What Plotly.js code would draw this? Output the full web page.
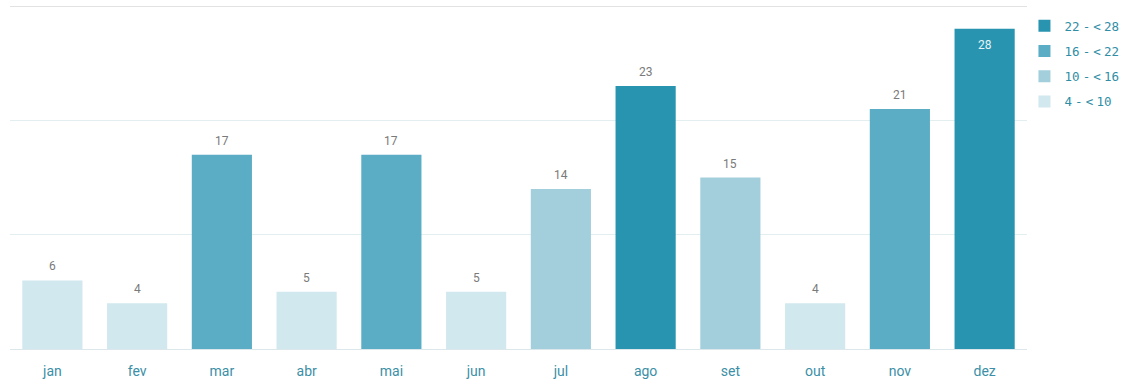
<!DOCTYPE html>
<html>
<head>
<meta charset="utf-8">
<script src="https://cdn.plot.ly/plotly-3.0.1.min.js"></script>
<style>html,body{margin:0;padding:0;background:#fff}#chart{width:1123px;height:379px}</style>
</head>
<body>
<div id="chart"></div>
<script>
const months = ["jan","fev","mar","abr","mai","jun","jul","ago","set","out","nov","dez"];
const values = [6,4,17,5,17,5,14,23,15,4,21,28];
const binOfMonth = [3,3,1,3,1,3,2,0,2,3,1,0];
const binLabels = ["22 - < 28","16 - < 22","10 - < 16","4 - < 10"];
const binColors = ["#2994b0","#5aadc4","#a3cfdc","#d2e8ef"];
const insideLabelMonths = ["dez"];

const sp = "<span style='font-family:Roboto'> </span>";
function legendText(lab) {
  return lab.split(" ").map(s => s.replace("<", "&lt;")).join(sp);
}

const traces = binLabels.map((lab, b) => {
  const y = values.map((v, i) => binOfMonth[i] === b ? v : null);
  return {
    type: "bar",
    name: legendText(lab),
    legendgroup: "g" + b,
    x: months,
    y: y,
    marker: {color: binColors[b], line: {width: 0}},
    hoverinfo: "x+y"
  };
});

const annotations = months.map((m, i) => {
  const inside = insideLabelMonths.includes(m);
  return {
    x: m, y: values[i], xref: "x", yref: "y",
    text: String(values[i]), showarrow: false,
    yanchor: inside ? "top" : "bottom",
    yshift: inside ? -7 : 5,
    font: {family: "Roboto, sans-serif", size: 12, color: inside ? "#e6f3f6" : "#7a7a7a"}
  };
});

const layout = {
  width: 1123, height: 379,
  margin: {l: 10, r: 96, t: 6, b: 30, pad: 0, autoexpand: false},
  paper_bgcolor: "#fff", plot_bgcolor: "#fff",
  barmode: "overlay",
  bargap: 0.29,
  showlegend: true,
  legend: {
    x: 0.9975, y: 0.985, xanchor: "left", yanchor: "top",
    traceorder: "grouped", tracegroupgap: 6,
    font: {family: "DejaVu Sans Mono, monospace", size: 12.5, color: "#2f8ea6"},
    itemwidth: 30
  },
  xaxis: {
    type: "category",
    tickfont: {family: "Roboto, sans-serif", size: 14, color: "#3c8fa6"},
    showgrid: false, zeroline: false, showline: false,
    ticks: "outside", ticklen: 9, tickcolor: "rgba(0,0,0,0)"
  },
  yaxis: {
    range: [0, 30], dtick: 10, showticklabels: false,
    showgrid: true, gridcolor: "#e3eef1", gridwidth: 1,
    zeroline: true, zerolinecolor: "#dbe7eb", zerolinewidth: 1,
    showline: false, ticks: ""
  },
  annotations: annotations,
  shapes: [{type: "line", xref: "paper", yref: "y", x0: 0, x1: 1, y0: 30, y1: 30, line: {color: "#e2e2e2", width: 2}}]
};

Plotly.newPlot("chart", traces, layout, {displayModeBar: false, staticPlot: true});
</script>
</body>
</html>
